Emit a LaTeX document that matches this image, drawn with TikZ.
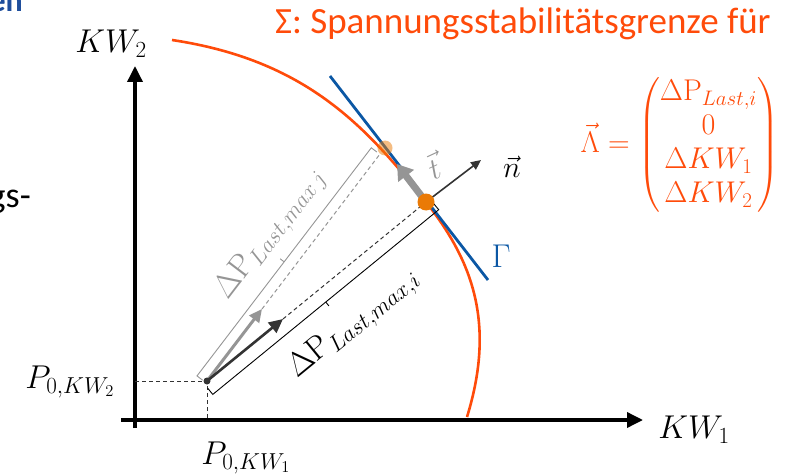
\RequirePackage{fix-cm}
\documentclass[tikz,border=0pt]{standalone}
\usepackage{amsmath}
\usepackage{fontspec}
\newfontfamily\calib{Carlito}
\usetikzlibrary{arrows.meta}
\definecolor{limitred}{HTML}{FF4B0A}
\definecolor{dotorange}{HTML}{EA7A06}
\definecolor{tangblue}{HTML}{0B57A4}
\definecolor{titleblue}{HTML}{1F4E9C}
\definecolor{darkarrow}{HTML}{333333}
\definecolor{grayarrow}{HTML}{959595}
\tikzset{
  axis/.style={line width=3.5pt,-{Triangle[length=16pt,width=15pt]}},
  bigmath/.style={font=\fontsize{33}{40}\selectfont},
  midmath/.style={font=\fontsize{30}{34}\selectfont},
  helpline/.style={line width=1pt,dash pattern=on 4pt off 3pt},
  bracket/.style={line width=0.9pt},
}

\begin{document}
\begin{tikzpicture}[x=1pt,y=-1pt]
    \clip (0,0) rectangle (787,476);
    % text cut off at the left border
    \node[anchor=base east,inner sep=0,text=titleblue,font=\calib\bfseries\fontsize{32}{38}\selectfont] (head) at (23,12) {en};
    \node[anchor=base east,inner sep=0,font=\calib\fontsize{36}{42}\selectfont] (side) at (31,207) {ungs-};

    % axes
    \coordinate (xstart) at (121,420);
    \coordinate (xend) at (643,420);
    \coordinate (ystart) at (135,428);
    \coordinate (yend) at (135,66);
    \draw[axis] (xstart) -- (xend);
    \draw[axis] (ystart) -- (yend);
    \node[bigmath] (kw2) at (111,44) {$KW_2$};
    \node[bigmath] (kw1) at (694,430) {$KW_1$};
    \node[bigmath] (p0y) at (70,382) {$P_{0,KW_2}$};
    \node[bigmath] (p0x) at (246,458) {$P_{0,KW_1}$};

    % operating point
    \coordinate (p0) at (207,381);
    \coordinate (p0a) at (135,381);
    \coordinate (p0b) at (207,420);
    \draw[helpline,darkarrow] (p0a) -- (p0) -- (p0b);

    % stability limit and tangent
    \coordinate (q) at (426,202);
    \coordinate (s1) at (172,40);
    \coordinate (s2) at (467,417);
    \draw[limitred,line width=2.6pt] (s1) .. controls (305,60) and (365,125) .. (q)
        .. controls (470,258) and (497,320) .. (s2);
    \coordinate (g1) at (330,76);
    \coordinate (g2) at (488,280);
    \draw[tangblue,line width=2.8pt] (g1) -- (g2);
    \node[bigmath,text=tangblue] (gamma) at (501,256) {$\Gamma$};

    % direction j (gray)
    \coordinate (r) at (385,148);
    \coordinate (ga) at (262,309);
    \coordinate (gd) at (380,154);
    \draw[helpline,grayarrow] (ga) -- (gd);
    \draw[grayarrow,line width=3pt,-{Triangle[length=13pt,width=12pt]}] (p0) -- (ga);
    \coordinate (gb1) at (202.6,380.2);
    \coordinate (gb2) at (197,375.9);
    \coordinate (gb3) at (371.3,147.8);
    \coordinate (gb4) at (376.9,152);
    \coordinate (gbm) at (284.2,261.9);
    \coordinate (gbt) at (280.2,258.8);
    \draw[bracket,grayarrow] (gb1) -- (gb2) -- (gb3) -- (gb4);
    \draw[bracket,grayarrow] (gbm) -- (gbt);
    \node[bigmath,text=grayarrow,rotate=52.6] (dpj) at (270.5,234) {$\Delta\mathrm{P}_{Last,max\,j}$};

    % direction i (black)
    \coordinate (ba) at (283,319);
    \draw[helpline,darkarrow] (ba) -- (q);
    \draw[darkarrow,line width=2.6pt,-{Triangle[length=14pt,width=13pt]}] (p0) -- (ba);
    \coordinate (bb1) at (207.7,388.2);
    \coordinate (bb2) at (212.8,394.4);
    \coordinate (bb3) at (438.7,209.7);
    \coordinate (bb4) at (433.6,203.5);
    \coordinate (bbm) at (325.8,302.1);
    \coordinate (bbt) at (328.9,305.9);
    \draw[bracket,black] (bb1) -- (bb2) -- (bb3) -- (bb4);
    \draw[bracket,black] (bbm) -- (bbt);
    \node[bigmath,rotate=39.3] (dpi) at (354,324) {$\Delta\mathrm{P}_{Last,max,i}$};

    % tangent and normal vectors
    \coordinate (tt) at (397,164);
    \coordinate (nn) at (481,160);
    \draw[grayarrow,line width=7pt,-{Triangle[length=15pt,width=19pt]}] (q) -- (tt);
    \draw[darkarrow,line width=1.6pt,-{Triangle[length=10pt,width=9pt]}] (q) -- (nn);
    \node[midmath,text=grayarrow,rotate=25] (tlab) at (433,166) {$\vec t$};
    \node[midmath] (nlab) at (512,167) {$\vec n$};

    % points on the limit
    \fill[dotorange,opacity=0.5] (r) circle (7.5pt);
    \fill[dotorange] (q) circle (8.5pt);
    \fill[darkarrow] (p0) circle (3.5pt);

    % title and load vector
    \node[anchor=base east,inner sep=0,text=limitred,font=\calib\fontsize{37}{44}\selectfont] (title) at (771,34) {Σ: Spannungsstabilitätsgrenze für};
    \node[anchor=east,inner sep=0,text=limitred,midmath] (lambda) at (779,145) {$\vec\Lambda=\begin{pmatrix}\Delta\mathrm{P}_{Last,i}\\0\\\Delta KW_1\\\Delta KW_2\end{pmatrix}$};
\end{tikzpicture}
\end{document}
